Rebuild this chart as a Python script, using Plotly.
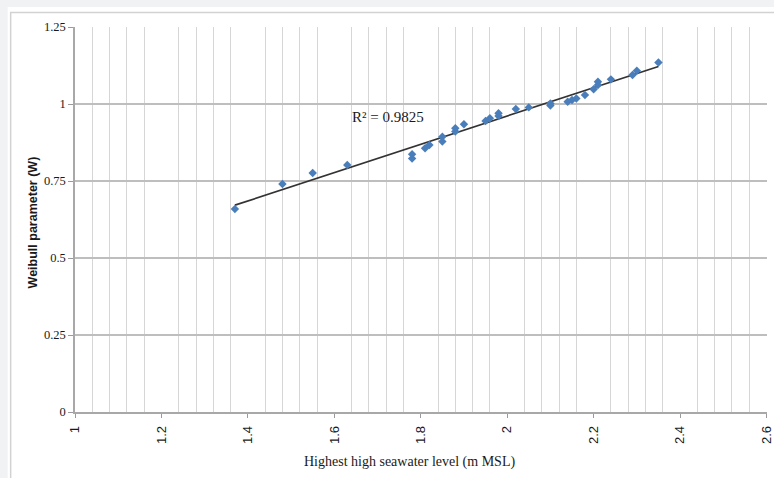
import numpy as np
import plotly.graph_objects as go

# ---- data ----
sea_level = [1.37, 1.48, 1.55, 1.63, 1.78, 1.78, 1.81, 1.82, 1.85, 1.85,
             1.88, 1.88, 1.90, 1.95, 1.96, 1.98, 1.98, 2.02, 2.05, 2.10,
             2.10, 2.14, 2.15, 2.16, 2.18, 2.20, 2.21, 2.21, 2.24, 2.29,
             2.30, 2.35]
weibull_w = [0.659, 0.740, 0.776, 0.802, 0.837, 0.823, 0.856, 0.867, 0.894, 0.878,
             0.921, 0.911, 0.934, 0.945, 0.954, 0.970, 0.961, 0.984, 0.989, 1.002,
             0.995, 1.007, 1.013, 1.018, 1.029, 1.048, 1.062, 1.072, 1.080, 1.094,
             1.108, 1.135]
x_tick_step = 0.2       # major x ticks: 1, 1.2, ... 2.6
x_minor_step = 0.04     # minor vertical gridlines
y_ticks = [0, 0.25, 0.5, 0.75, 1, 1.25]
y_tick_labels = ["0", "0.25", "0.5", "0.75", "1", "1.25"]
r2_label = "R\u00b2 = 0.9825"
x_title = "Highest high seawater level (m MSL)"
y_title = "Weibull parameter (W)"

# linear trend fitted on the data
slope, intercept = np.polyfit(sea_level, weibull_w, 1)
trend_x = [min(sea_level), max(sea_level)]
trend_y = [slope * v + intercept for v in trend_x]

W, H = 774, 478
L, R, T, B = 75, 0, 27, 66
PW, PH = W - L - R, H - T - B


def px_x(p):
    return (p - L) / PW


def px_y(p):
    return (H - B - p) / PH


fig = go.Figure()
fig.add_trace(go.Scatter(x=trend_x, y=trend_y, mode="lines",
                         line=dict(color="#333333", width=1.7),
                         hoverinfo="skip", showlegend=False))
fig.add_trace(go.Scatter(x=sea_level, y=weibull_w, mode="markers",
                         marker=dict(symbol="diamond", size=6.5, color="#4a7ebb",
                                     line=dict(width=0)),
                         showlegend=False))

serif = "Liberation Serif, Times New Roman, serif"
sans = "Liberation Sans, Arial, sans-serif"

fig.update_layout(
    width=W, height=H,
    margin=dict(l=L, r=R, t=T, b=B, pad=0),
    paper_bgcolor="#f1f2f4",
    plot_bgcolor="white",
    showlegend=False,
    xaxis=dict(range=[1, 2.6012], tickmode="linear", tick0=1, dtick=x_tick_step,
               tickangle=-90, ticks="outside", ticklen=4, tickcolor="#9a9a9a",
               ticklabeloverflow="allow", ticklabelstandoff=3,
               showgrid=False, zeroline=False, showline=True, linecolor="#a8a8a8",
               linewidth=1.5,
               tickfont=dict(family=sans, size=13, color="#1a1a1a"),
               minor=dict(tickmode="linear", tick0=1, dtick=x_minor_step, showgrid=True,
                          gridcolor="#d6d6d6", gridwidth=1.2, ticks="")),
    yaxis=dict(range=[0, 1.25], tickmode="array", tickvals=y_ticks, ticktext=y_tick_labels,
               ticks="outside", ticklen=5, tickcolor="#9a9a9a",
               showgrid=True, gridcolor="#bebebe", gridwidth=1.5,
               zeroline=False, showline=True, linecolor="#a8a8a8", linewidth=1.5,
               tickfont=dict(family=serif, size=12.5, color="#1a1a1a")),
    shapes=[
        dict(type="rect", xref="paper", yref="paper", layer="below",
             x0=px_x(7), x1=px_x(W + 20), y0=px_y(H + 20), y1=px_y(7),
             fillcolor="white", line=dict(width=0)),
        dict(type="rect", xref="paper", yref="paper", layer="below",
             x0=px_x(10), x1=px_x(W + 20), y0=px_y(H + 20), y1=px_y(12.5),
             fillcolor="rgba(0,0,0,0)", line=dict(color="#d2d2d2", width=1.5)),
    ],
    annotations=[
        dict(text=r2_label, x=1.7246, y=0.958, xref="x", yref="y", showarrow=False,
             xanchor="center", yanchor="middle",
             font=dict(family=serif, size=15, color="#1a1a1a")),
        dict(text=x_title, x=px_x(413), y=px_y(462), xref="paper", yref="paper",
             showarrow=False, xanchor="center", yanchor="middle",
             font=dict(family=serif, size=14, color="#1a1a1a")),
        dict(text="<b>" + y_title + "</b>", x=px_x(33), y=px_y(222), xref="paper",
             yref="paper", showarrow=False, xanchor="center", yanchor="middle",
             textangle=-90,
             font=dict(family=sans, size=12.5, color="#1a1a1a")),
    ],
)

fig.write_html("out.html")
